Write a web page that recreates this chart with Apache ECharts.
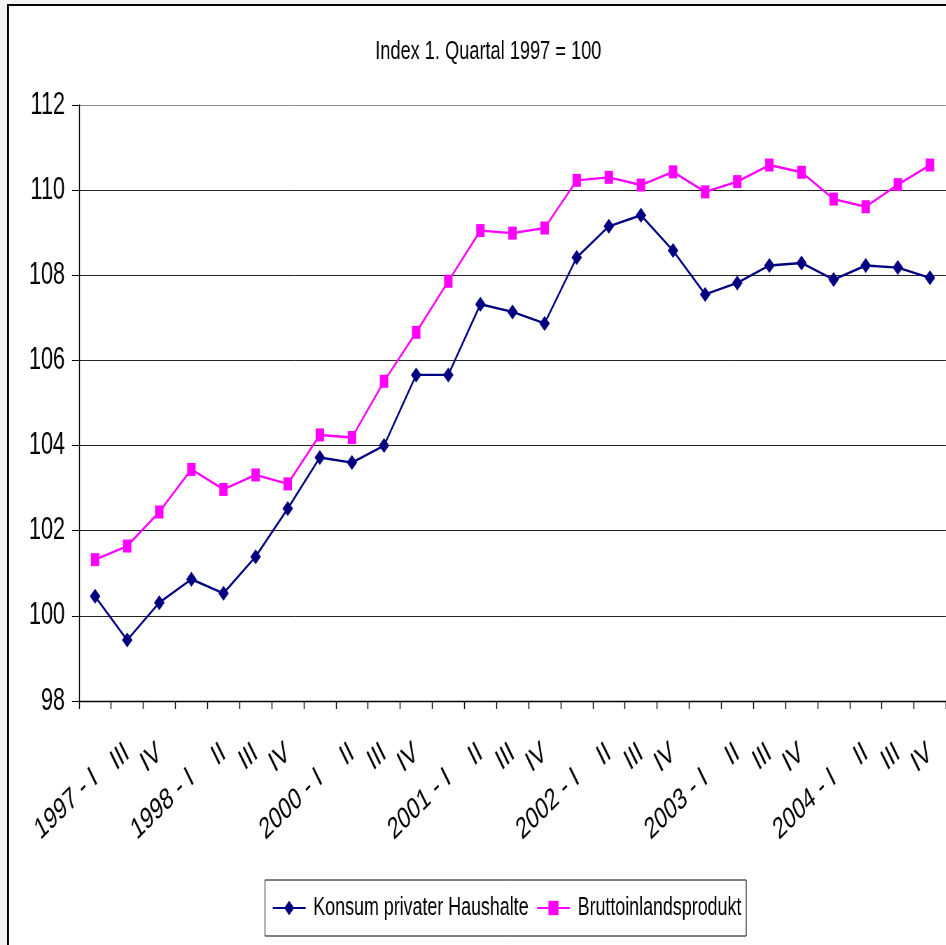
<!DOCTYPE html>
<html>
<head>
<meta charset="utf-8">
<script src="https://cdn.jsdelivr.net/npm/echarts@6/dist/echarts.min.js"></script>
<style>
  html, body { margin: 0; padding: 0; background: #f3f3f3; overflow: hidden; }
  /* the original chart is a horizontally squeezed spreadsheet chart,
     so the drawing is made wider and squeezed back with CSS */
  #chart { width: 1352px; height: 945px; transform: scaleX(0.7); transform-origin: 0 0; }
</style>
</head>
<body>
<div id="chart"></div>
<script>
// quarter labels as printed in the original (1999 is skipped there)
const quarters = [
  '1997 - I', 'III', 'IV',
  '1998 - I', 'II', 'III', 'IV',
  '2000 - I', 'II', 'III', 'IV',
  '2001 - I', 'II', 'III', 'IV',
  '2002 - I', 'II', 'III', 'IV',
  '2003 - I', 'II', 'III', 'IV',
  '2004 - I', 'II', 'III', 'IV'
];
const konsum = [
  100.46, 99.43, 100.31, 100.86, 100.53, 101.39, 102.52,
  103.72, 103.60, 104.00, 105.66, 105.66, 107.32, 107.14,
  106.87, 108.42, 109.15, 109.41, 108.58, 107.55, 107.82,
  108.23, 108.29, 107.90, 108.23, 108.18, 107.94
];
const bip = [
  101.32, 101.64, 102.44, 103.44, 102.97, 103.31, 103.10,
  104.25, 104.19, 105.51, 106.66, 107.86, 109.05, 108.99,
  109.11, 110.23, 110.30, 110.12, 110.43, 109.96, 110.20,
  110.59, 110.42, 109.79, 109.61, 110.13, 110.59
];
const yTicks = { min: 98, max: 112, step: 2 };

const SQ = 0.7; // horizontal squeeze
const FONT = '"Liberation Sans", Arial, sans-serif';

const chart = echarts.init(document.getElementById('chart'));

const option = {
  backgroundColor: '#f3f3f3',
  animation: false,
  graphic: [
    {
      type: 'rect',
      shape: { x: 8 / SQ, y: 5, width: 2000, height: 1000 },
      style: { fill: '#fff', stroke: '#000', lineWidth: 2 },
      z: -10
    },
    {
      type: 'line',
      shape: { x1: 8 / SQ, y1: 4, x2: 8 / SQ, y2: 945 },
      style: { stroke: '#000', lineWidth: 2.8 },
      z: -9
    }
  ],
  title: {
    text: 'Index 1. Quartal 1997 = 100',
    left: 531,
    top: 34,
    textStyle: { fontFamily: FONT, fontSize: 26, fontWeight: 'normal', color: '#000' }
  },
  legend: {
    left: 265 / SQ,
    top: 880,
    padding: [15, 7, 15, 10],
    borderColor: '#000',
    borderWidth: 1,
    itemWidth: 47,
    itemHeight: 18,
    itemGap: 11,
    textStyle: { fontFamily: FONT, fontSize: 25.5, color: '#000', padding: [0, 0, 0, 6] },
    data: ['Konsum privater Haushalte', 'Bruttoinlandsprodukt']
  },
  grid: { left: 79 / SQ, top: 105, width: 867 / SQ, height: 596, containLabel: false },
  xAxis: {
    type: 'category',
    data: quarters,
    boundaryGap: true,
    axisLine: { lineStyle: { color: '#000', width: 1.4 } },
    axisTick: { show: true, length: 8, inside: false, lineStyle: { color: '#000', width: 1.4 } },
    axisLabel: {
      interval: 0,
      rotate: 35,
      margin: 49,
      fontFamily: FONT,
      fontSize: 30,
      color: '#000',
      formatter: function (v) {
        return v.indexOf(' - ') > 0 ? '{y|' + v + '}' : '{q|' + v + '}';
      },
      rich: {
        q: { fontFamily: FONT, fontSize: 30, color: '#000' },
        // year labels sit lower in the original
        y: { fontFamily: FONT, fontSize: 30, color: '#000', padding: [42, 14, 0, 0] }
      }
    },
    splitLine: { show: false }
  },
  yAxis: {
    type: 'value',
    min: yTicks.min,
    max: yTicks.max,
    interval: yTicks.step,
    axisLine: { show: true, lineStyle: { color: '#000', width: 1.4 } },
    axisTick: { show: true, length: 10, lineStyle: { color: '#000' } },
    axisLabel: { margin: 20, fontFamily: FONT, fontSize: 31, color: '#000' },
    splitLine: {
      show: true,
      lineStyle: { color: ['#000', '#222', '#222', '#222', '#222', '#222', '#222', '#8a8a8a'], width: 1 }
    }
  },
  series: [
    {
      name: 'Konsum privater Haushalte',
      type: 'line',
      data: konsum,
      symbol: 'diamond',
      symbolSize: [15, 15],
      showAllSymbol: true,
      lineStyle: { color: '#000080', width: 2.4 },
      itemStyle: { color: '#000080' }
    },
    {
      name: 'Bruttoinlandsprodukt',
      type: 'line',
      data: bip,
      symbol: 'rect',
      symbolSize: [12, 13],
      showAllSymbol: true,
      lineStyle: { color: '#ff00ff', width: 2.4 },
      itemStyle: { color: '#ff00ff' }
    }
  ]
};

chart.setOption(option);
</script>
</body>
</html>
